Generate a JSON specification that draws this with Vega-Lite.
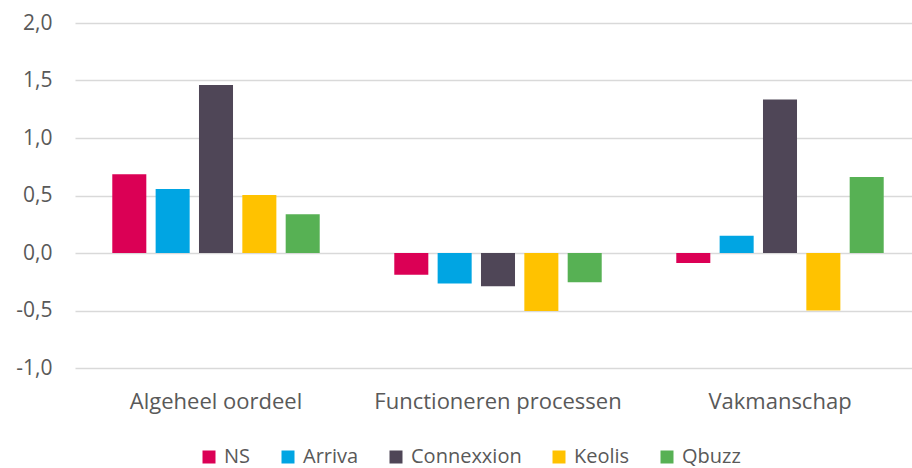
{
  "$schema": "https://vega.github.io/schema/vega-lite/v6.json",
  "autosize": {"type": "none"},
  "padding": {"left": 75, "top": 23, "right": -9, "bottom": 100},
  "width": 846,
  "height": 345,
  "background": "white",
  "config": {
    "locale": {"number": {"decimal": ",", "thousands": ".", "grouping": [3], "currency": ["€", ""], "minus": "-"}},
    "font": "Open Sans",
    "view": {"stroke": null}
  },
  "data": {
    "values": [
      {"category": "Algeheel oordeel", "company": "NS", "value": 0.685},
      {"category": "Algeheel oordeel", "company": "Arriva", "value": 0.557},
      {"category": "Algeheel oordeel", "company": "Connexxion", "value": 1.46},
      {"category": "Algeheel oordeel", "company": "Keolis", "value": 0.505},
      {"category": "Algeheel oordeel", "company": "Qbuzz", "value": 0.337},
      {"category": "Functioneren processen", "company": "NS", "value": -0.19},
      {"category": "Functioneren processen", "company": "Arriva", "value": -0.265},
      {"category": "Functioneren processen", "company": "Connexxion", "value": -0.29},
      {"category": "Functioneren processen", "company": "Keolis", "value": -0.505},
      {"category": "Functioneren processen", "company": "Qbuzz", "value": -0.255},
      {"category": "Vakmanschap", "company": "NS", "value": -0.087},
      {"category": "Vakmanschap", "company": "Arriva", "value": 0.15},
      {"category": "Vakmanschap", "company": "Connexxion", "value": 1.335},
      {"category": "Vakmanschap", "company": "Keolis", "value": -0.5},
      {"category": "Vakmanschap", "company": "Qbuzz", "value": 0.66}
    ]
  },
  "mark": {"type": "bar"},
  "encoding": {
    "x": {
      "field": "category", "type": "nominal", "sort": null,
      "scale": {"paddingInner": 0, "paddingOuter": 0},
      "axis": {"title": null, "labelAngle": 0, "domain": false, "ticks": false, "labelPadding": 23, "labelFontSize": 22, "labelColor": "#595959", "labelLimit": 400}
    },
    "xOffset": {
      "field": "company", "type": "nominal", "sort": ["NS", "Arriva", "Connexxion", "Keolis", "Qbuzz"],
      "scale": {"paddingInner": 0.215, "paddingOuter": 0.86}
    },
    "y": {
      "field": "value", "type": "quantitative",
      "scale": {"domain": [-1, 2], "nice": false, "zero": false},
      "axis": {"title": null, "values": [-1, -0.5, 0, 0.5, 1, 1.5, 2], "format": ".1f", "domain": false, "ticks": false, "labelPadding": 23, "labelFontSize": 21, "labelColor": "#595959", "gridColor": "#D9D9D9", "gridWidth": 1.5}
    },
    "color": {
      "field": "company", "type": "nominal", "sort": ["NS", "Arriva", "Connexxion", "Keolis", "Qbuzz"],
      "scale": {"domain": ["NS", "Arriva", "Connexxion", "Keolis", "Qbuzz"], "range": ["#DB0055", "#00A5E3", "#4F4657", "#FFC200", "#57B154"]},
      "legend": {"title": null, "orient": "none", "legendX": 124, "legendY": 424, "direction": "horizontal", "symbolType": "square", "symbolSize": 169, "symbolStrokeWidth": 0, "labelFontSize": 20, "labelColor": "#595959", "labelOffset": 5, "columnPadding": 27, "labelLimit": 300}
    }
  }
}
